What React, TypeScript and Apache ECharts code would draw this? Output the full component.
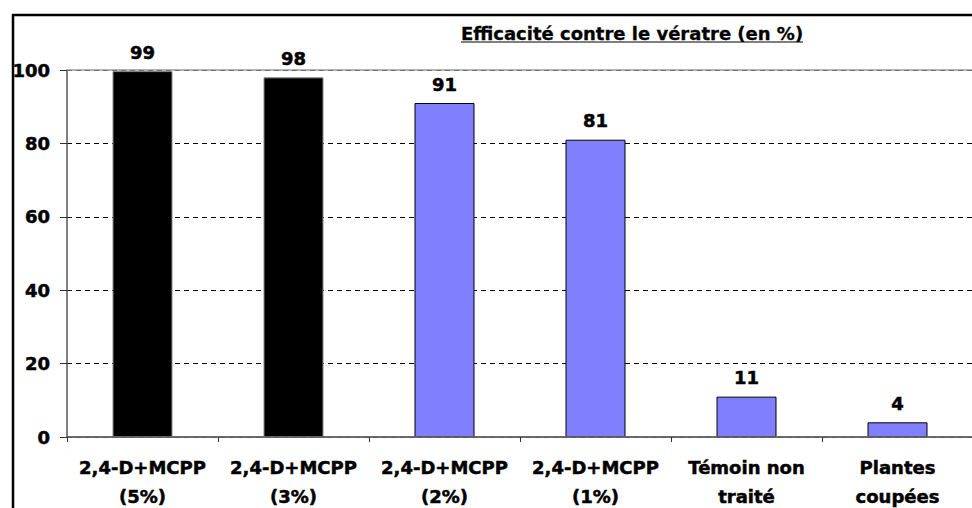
import React, { useEffect, useRef } from "react";
import * as echarts from "echarts";

const categories = [
  "2,4-D+MCPP\n(5%)",
  "2,4-D+MCPP\n(3%)",
  "2,4-D+MCPP\n(2%)",
  "2,4-D+MCPP\n(1%)",
  "Témoin non\ntraité",
  "Plantes\ncoupées",
];
const values = [99.7, 98, 91, 81, 11, 4];
const valueLabels = ["99", "98", "91", "81", "11", "4"];
const barColors = ["#000000", "#000000", "#8080FF", "#8080FF", "#8080FF", "#8080FF"];
const yTicks = { min: 0, max: 100, interval: 20 };
const titleText = "Efficacité contre le vératre (en %)";

const FONT = "DejaVu Sans";
const heavy = { textBorderColor: "#000", textBorderWidth: 0.5 };

export default function App() {
  const ref = useRef<HTMLDivElement>(null);
  useEffect(() => {
    if (!ref.current) return;
    document.body.style.margin = "0";
    document.body.style.overflow = "hidden";
    const chart = echarts.init(ref.current, undefined, { renderer: "svg" });
    chart.setOption({
      animation: false,
      backgroundColor: "#ffffff",
      grid: {
        left: 67,
        top: 70,
        width: 906,
        height: 367,
        show: false,
        containLabel: false,
        outerBoundsMode: "none",
      },
      graphic: [
        {
          type: "line",
          shape: { x1: 13, y1: 14, x2: 13, y2: 520 },
          style: { stroke: "#000", lineWidth: 2.5 },
          z: 10,
        },
        {
          type: "line",
          shape: { x1: 12, y1: 15, x2: 990, y2: 15 },
          style: { stroke: "#000", lineWidth: 2.5 },
          z: 10,
        },
        {
          type: "text",
          x: 632,
          y: 33,
          style: {
            text: titleText,
            fill: "#000",
            font: `bold 18px "${FONT}"`,
            textAlign: "center",
            textVerticalAlign: "middle",
            stroke: "#000",
            lineWidth: 0.3,
          },
        },
        {
          type: "line",
          shape: { x1: 461, y1: 42, x2: 803, y2: 42 },
          style: { stroke: "#000", lineWidth: 1.2 },
        },
      ],
      xAxis: {
        type: "category",
        data: categories,
        boundaryGap: true,
        axisLine: { show: true, lineStyle: { color: "#555", width: 1.5 } },
        axisTick: { show: true, length: 5, lineStyle: { color: "#333" } },
        axisLabel: {
          color: "#000",
          fontFamily: FONT,
          fontWeight: "bold",
          fontSize: 18,
          lineHeight: 29,
          margin: 16,
          interval: 0,
          ...heavy,
        },
        z: 5,
      },
      yAxis: [
        {
          type: "value",
          min: yTicks.min,
          max: yTicks.max,
          interval: yTicks.interval,
          axisLine: { show: true, lineStyle: { color: "#555", width: 1.5 } },
          axisTick: { show: true, length: 7, lineStyle: { color: "#333" } },
          axisLabel: {
            color: "#000",
            fontFamily: FONT,
            fontWeight: "bold",
            fontSize: 18,
            margin: 17,
            ...heavy,
          },
          splitLine: {
            show: true,
            lineStyle: { color: "#000", type: [5, 4], width: 1 },
          },
        },
        {
          type: "value",
          position: "left",
          min: yTicks.min,
          max: yTicks.max,
          interval: yTicks.max,
          axisLine: { show: false },
          axisTick: { show: false },
          axisLabel: { show: false },
          splitLine: {
            show: true,
            lineStyle: { color: "#999", type: "solid", width: 1.5 },
          },
          z: 3,
        },
      ],
      series: [
        {
          type: "bar",
          barWidth: 60,
          yAxisIndex: 0,
          data: values.map((v, i) => ({
            value: v,
            itemStyle: {
              color: barColors[i],
              borderColor: barColors[i] === "#000000" ? "#888" : "#000",
              borderWidth: 1,
            },
          })),
          label: {
            show: true,
            position: "top",
            distance: 10,
            color: "#000",
            fontFamily: FONT,
            fontWeight: "bold",
            fontSize: 18,
            ...heavy,
            formatter: (p: any) => valueLabels[p.dataIndex],
          },
        },
      ],
    });
    return () => chart.dispose();
  }, []);
  return (
    <div
      ref={ref}
      style={{ position: "absolute", left: 0, top: 0, width: 972, height: 508 }}
    />
  );
}
